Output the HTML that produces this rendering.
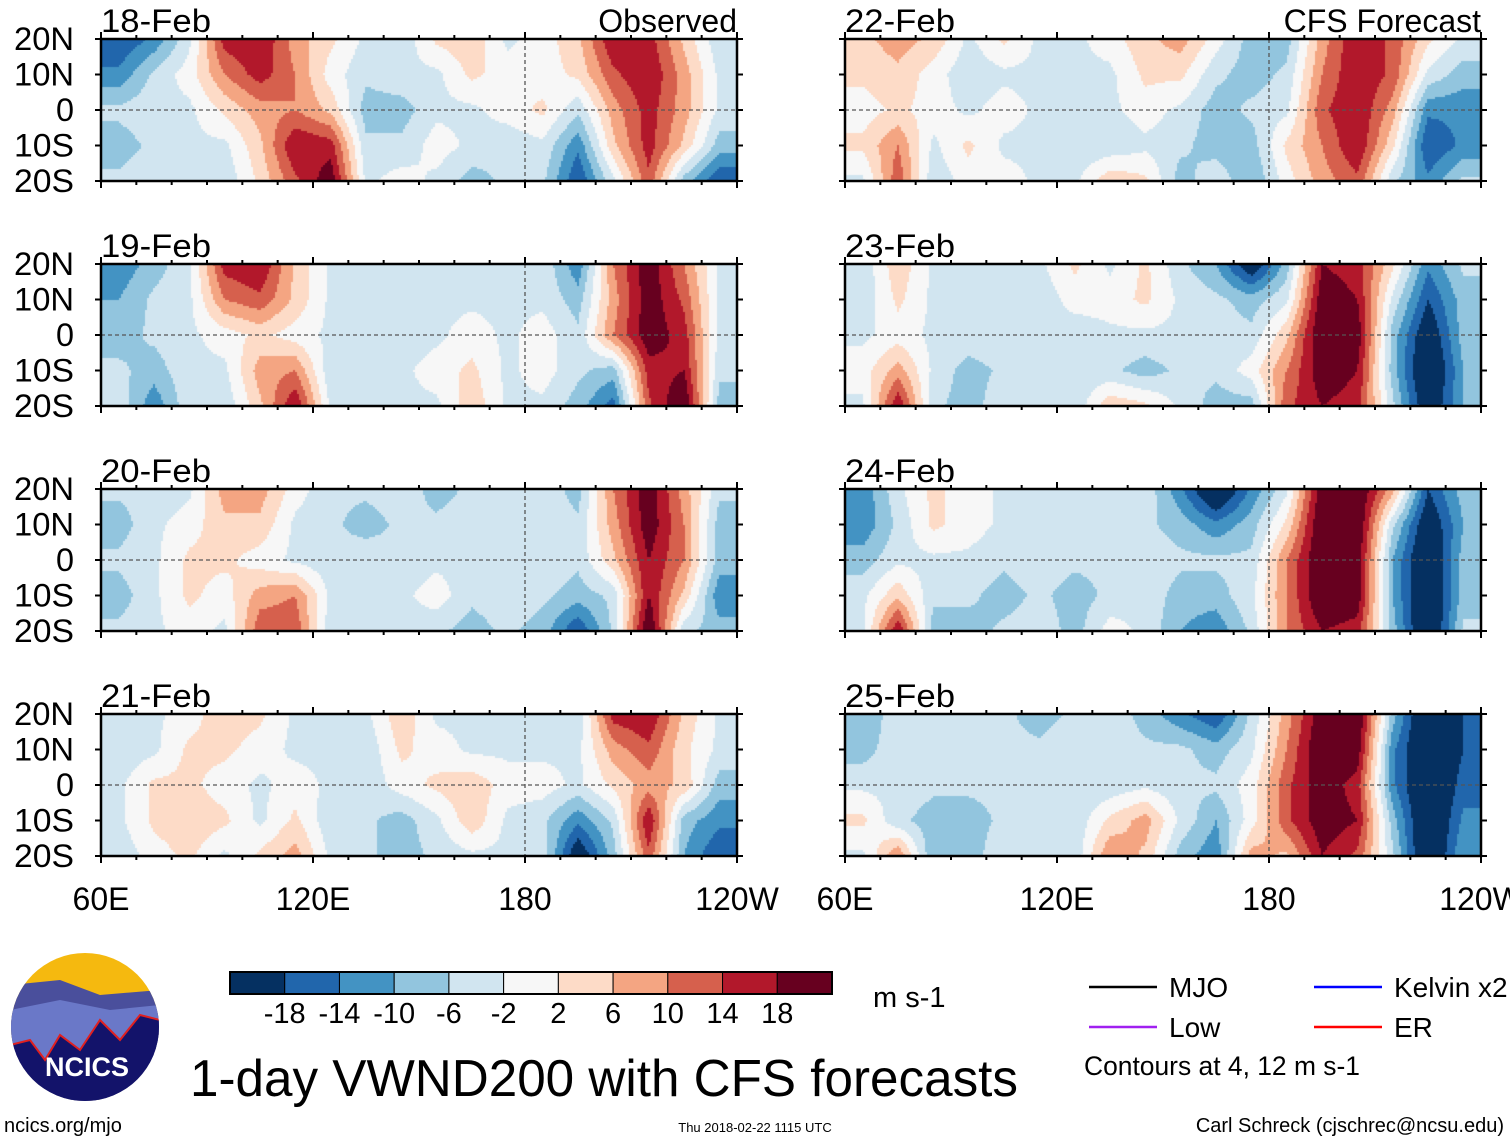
<!DOCTYPE html>
<html><head><meta charset="utf-8"><style>
html,body{margin:0;padding:0;background:#fff;width:1510px;height:1142px;overflow:hidden}
svg{position:absolute;left:0;top:0;font-family:"Liberation Sans Narrow","Liberation Sans",sans-serif}
canvas{position:absolute}
</style></head><body>
<svg id="fig" width="1510" height="1142"></svg>
<script>
// ---- data: 200hPa meridional wind anomaly (m/s), 10-deg columns 60E..230E, rows 20N,10N,0,10S,20S
const lonTicks = ["60E","120E","180","120W"];
const latTicks = ["20N","10N","0","10S","20S"];
const levels = [-18,-14,-10,-6,-2,2,6,10,14,18];
const colors = ["#053061","#2166ac","#4393c3","#92c5de","#d1e5f0","#f7f7f7","#fddbc7","#f4a582","#d6604d","#b2182b","#67001f"];
const panelTitles = ["18-Feb","19-Feb","20-Feb","21-Feb","22-Feb","23-Feb","24-Feb","25-Feb"];
const p1 = [[-18,-13,-3,16,18,8,3,-3,-5,3,5,-3,0,5,18,16,5,-5],[-13,-5,0,10,16,10,0,-5,-3,-3,3,0,0,3,13,18,8,-3],[-5,-3,-3,3,8,10,5,-8,-8,-3,-3,0,3,-5,8,16,8,-3],[-8,-5,-3,-3,5,18,16,-5,-5,0,-3,-5,-3,-13,5,16,5,-8],[-5,-3,-3,-5,3,13,21,-3,0,-3,-8,-5,-5,-18,-3,13,-8,-18]];
const p2 = [[-13,-8,-3,16,18,5,-3,-5,-3,-5,-3,-3,-3,-13,10,21,10,-3],[-10,-5,-3,10,13,5,-3,-5,-3,-3,-3,-3,-3,-8,8,21,13,-3],[-8,-5,-3,0,3,0,-3,-3,-5,-3,0,-3,0,-5,10,21,16,-3],[-5,-8,-3,-3,8,10,-5,-3,-3,0,3,-3,0,-5,-8,16,18,-5],[-3,-13,-3,-5,5,18,-3,-3,-3,-3,5,-3,-3,-8,-16,13,23,-8]];
const p3 = [[-5,-5,-3,8,8,0,-5,-5,-3,-8,-5,-3,-3,-8,10,21,8,-5],[-8,-3,0,5,5,-3,-5,-8,-5,-5,-3,-5,-3,-5,8,21,10,-8],[-5,-3,3,3,0,-3,-5,-3,-5,-3,-3,-3,-3,-5,5,18,10,-8],[-8,-3,3,0,8,10,-3,-3,-3,0,-5,-3,-5,-8,-5,18,5,-13],[-5,-3,0,-3,13,13,-5,-3,-3,-5,-8,-5,-8,-18,-5,23,-5,-8]];
const p4 = [[-3,-3,0,5,3,-3,-5,-3,5,-3,-3,-3,-5,-5,16,18,5,-3],[-5,-3,3,3,0,-3,-3,-5,3,0,-3,-3,-3,-3,8,13,3,-3],[-3,3,3,0,-3,0,-3,-5,0,3,5,0,0,-3,3,8,5,-8],[-3,3,5,3,-3,3,-5,-5,-8,-3,5,-3,-5,-13,-5,18,-8,-13],[-5,0,3,-3,3,8,-3,-5,-8,-5,-3,-3,-3,-23,-8,13,-10,-18]];
const p5 = [[5,8,5,-3,3,-3,-3,0,5,8,0,-8,-8,8,18,13,3,-3],[3,5,0,-5,-3,-3,-3,-3,3,3,-5,-8,-5,10,18,13,-3,-8],[0,3,0,-3,0,-3,-5,-3,0,-3,-8,-5,-3,13,18,8,-13,-13],[3,10,-3,3,-3,-3,-5,-5,-3,-5,-8,-8,3,10,18,3,-18,-13],[-3,13,-5,0,0,-3,-3,5,3,-8,-3,-10,0,8,13,-5,-13,-5]];
const p6 = [[-5,5,-3,-5,-3,-3,3,-3,3,-5,-10,-23,-8,18,16,3,-13,-5],[-5,3,-3,-3,-3,-5,0,0,3,-3,-5,-8,-3,21,18,-3,-18,-8],[-3,0,-3,-3,-3,-3,-5,-3,-3,-3,-3,-5,5,23,21,-8,-23,-8],[0,8,-3,-8,-5,-5,-5,-5,-8,-5,-5,0,10,21,18,-8,-26,-10],[-3,18,-5,-8,-3,-3,-5,5,3,-3,-8,-8,13,18,16,-5,-23,-10]];
const p7 = [[-13,-3,3,0,-3,-5,-3,-5,-3,-13,-26,-13,-3,21,23,8,-18,-8],[-13,-5,3,0,-3,-5,-3,-5,-5,-8,-13,-8,3,23,23,-5,-23,-10],[-8,-3,-3,-3,-5,-3,-5,-5,-3,-5,-5,-5,10,23,21,-10,-26,-8],[-3,5,-5,-5,-8,-5,-8,-5,-3,-8,-8,-3,10,23,21,-10,-26,-8],[-3,18,-8,-8,-5,-3,-8,0,-3,-10,-13,-5,10,18,16,-8,-26,-5]];
const p8 = [[-10,-3,-3,-3,-5,-8,-5,-3,-8,-13,-18,-5,8,21,23,-8,-26,-18],[-8,-3,-3,-3,-5,-5,-3,-3,-5,-5,-8,-3,10,23,21,-13,-26,-18],[-3,-3,-5,-5,-5,-3,-5,-5,-3,-5,-5,0,13,21,16,-13,-26,-16],[3,-5,-8,-8,-5,-5,-5,3,8,-3,-10,0,13,21,18,-8,-26,-13],[-3,10,-10,-8,-3,-5,-5,10,5,-8,-13,8,5,18,13,-5,-26,-10]];
const fields = [p1,p2,p3,p4,p5,p6,p7,p8];

const NS="http://www.w3.org/2000/svg";
const svg=document.getElementById('fig');
function mk(tag,attrs,parent){const e=document.createElementNS(NS,tag);for(const k in attrs)e.setAttribute(k,attrs[k]);(parent||svg).appendChild(e);return e;}
const PW=636, PH=142;
const colX=[101,845], rowY=[39,264,489,714];
function xScale(lon){return lon/180*PW;}
function yScale(lat){return (20-lat)/40*PH;}
function colorOf(v){let i=0;while(i<levels.length&&v>=levels[i])i++;return colors[i];}
function sample(f,fx,fy){
  fx=Math.max(0,Math.min(17,fx));fy=Math.max(0,Math.min(4,fy));
  const x0=Math.floor(fx),y0=Math.floor(fy),x1=Math.min(17,x0+1),y1=Math.min(4,y0+1),tx=fx-x0,ty=fy-y0;
  const a=f[y0][x0]*(1-tx)+f[y0][x1]*tx,b=f[y1][x0]*(1-tx)+f[y1][x1]*tx;return a*(1-ty)+b*ty;}

fields.forEach((f,pi)=>{
  const c=pi<4?0:1, r=pi%4, X=colX[c], Y=rowY[r];
  const cv=document.createElement('canvas');cv.width=PW;cv.height=PH;
  cv.style.left=X+'px';cv.style.top=Y+'px';
  
  
  document.body.insertBefore(cv,svg);
  const ctx=cv.getContext('2d');const s=2;
  for(let py=0;py<PH;py+=s)for(let px=0;px<PW;px+=s){
    const lon=(px+s/2)/PW*180, lat=20-(py+s/2)/PH*40;
    const v=sample(f,(lon-5)/10,(20-lat)/10);
    ctx.fillStyle=colorOf(v);ctx.fillRect(px,py,s,s);
  }
  const g=mk('g',{});
  
  
  mk('line',{x1:X,x2:X+PW,y1:Y+yScale(0),y2:Y+yScale(0),stroke:'#555','stroke-width':1.3,'stroke-dasharray':'4,3'},g);
  mk('line',{x1:X+xScale(120),x2:X+xScale(120),y1:Y,y2:Y+PH,stroke:'#555','stroke-width':1.3,'stroke-dasharray':'4,3'},g);
  mk('rect',{x:X,y:Y,width:PW,height:PH,fill:'none',stroke:'#000','stroke-width':2.5},g);
  for(let lon=0;lon<=180;lon+=10){const tx=X+xScale(lon),L=lon%60==0?7:4;
    mk('line',{x1:tx,x2:tx,y1:Y-L,y2:Y,stroke:'#000','stroke-width':2},g);
    mk('line',{x1:tx,x2:tx,y1:Y+PH,y2:Y+PH+L,stroke:'#000','stroke-width':2},g);}
  latTicks.forEach((t,i)=>{const ty=Y+yScale(20-i*10);
    mk('line',{x1:X-6,x2:X,y1:ty,y2:ty,stroke:'#000','stroke-width':2},g);
    mk('line',{x1:X+PW,x2:X+PW+6,y1:ty,y2:ty,stroke:'#000','stroke-width':2},g);
    if(c==0){const tt=mk('text',{x:74,y:ty+11,'text-anchor':'end','font-size':32,textLength:t.length>1?60:18,lengthAdjust:'spacingAndGlyphs'},g);tt.textContent=t;
      }
  });
  const tl=mk('text',{x:X,y:Y-7,'font-size':32,textLength:110,lengthAdjust:'spacingAndGlyphs'},g);tl.textContent=panelTitles[pi];
  
  if(r==0){const rt=mk('text',{x:X+PW,y:Y-7,'font-size':32,'text-anchor':'end'},g);rt.textContent=c==0?'Observed':'CFS Forecast';
    }
});
colX.forEach(X=>{lonTicks.forEach((t,i)=>{const tt=mk('text',{x:X+xScale(i*60),y:910,'font-size':32,'text-anchor':'middle'});tt.textContent=t;
  });});

const cb=mk('g',{});
const cbw=602/colors.length;
colors.forEach((col,i)=>{mk('rect',{x:230+i*cbw,y:972,width:cbw,height:22,fill:col,stroke:'#000','stroke-width':1},cb);});
mk('rect',{x:230,y:972,width:602,height:22,fill:'none',stroke:'#000','stroke-width':2},cb);
levels.forEach((l,i)=>{const tt=mk('text',{x:230+(i+1)*cbw,y:1023,'font-size':29,'text-anchor':'middle'},cb);tt.textContent=l;});
const un=mk('text',{x:873,y:1007,'font-size':29});un.textContent='m s-1';

const leg=[["MJO","#000",1089,987],["Kelvin x2","#0000ff",1314,987],["Low","#a020f0",1089,1027],["ER","#ff0000",1314,1027]];
leg.forEach(l=>{const g=mk('g',{});
  mk('line',{x1:l[2],x2:l[2]+68,y1:l[3],y2:l[3],stroke:l[1],'stroke-width':2.5},g);
  const t=mk('text',{x:l[2]+80,y:l[3]+10,'font-size':28},g);t.textContent=l[0];});
const ct=mk('text',{x:1084,y:1075,'font-size':27,textLength:276,lengthAdjust:'spacingAndGlyphs'});ct.textContent='Contours at 4, 12 m s-1';

const ti=mk('text',{x:190,y:1096,'font-size':52,textLength:828,lengthAdjust:'spacingAndGlyphs'});ti.textContent='1-day VWND200 with CFS forecasts';

const lg=mk('g',{});
mk('defs',{},lg).innerHTML='<clipPath id="lc"><ellipse cx="85" cy="1027" rx="74" ry="74"/></clipPath>';
const lc=mk('g',{'clip-path':'url(#lc)'},lg);
mk('rect',{x:10,y:952,width:150,height:150,fill:'#f5b90f'},lc);
mk('path',{d:'M10,985 L60,980 L100,995 L160,990 L160,1102 L10,1102Z',fill:'#4a4f9c'},lc);
mk('path',{d:'M10,1010 L60,1000 L110,1010 L160,1005 L160,1102 L10,1102Z',fill:'#6a78c8'},lc);
mk('path',{d:'M10,1045 L30,1040 L45,1060 L60,1035 L80,1050 L100,1020 L120,1040 L140,1015 L160,1020 L160,1102 L10,1102Z',fill:'#13136a',stroke:'#e02020','stroke-width':2},lc);
const nt=mk('text',{x:87,y:1076,'font-size':27,'font-weight':'bold',fill:'#fff','text-anchor':'middle'},lg);nt.textContent='NCICS';
const f1=mk('text',{x:4,y:1132,'font-size':20});f1.textContent='ncics.org/mjo';
const f2=mk('text',{x:755,y:1132,'font-size':13,'text-anchor':'middle'});f2.textContent='Thu 2018-02-22 1115 UTC';
const f3=mk('text',{x:1504,y:1132,'font-size':20,'text-anchor':'end'});f3.textContent='Carl Schreck (cjschrec@ncsu.edu)';
</script>
</body></html>
